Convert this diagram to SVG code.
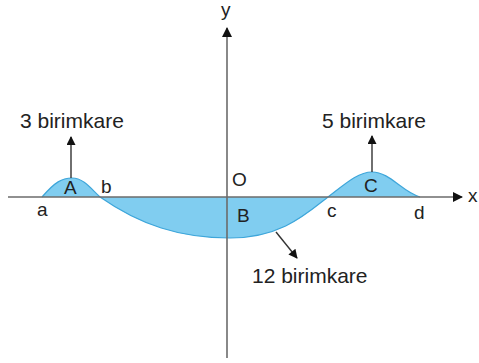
<svg xmlns="http://www.w3.org/2000/svg" width="479" height="363" viewBox="0 0 479 363">
<defs>
<style>
.axis{stroke:#6b6b6b;stroke-width:1.6;fill:none}
.ptr{stroke:#333;stroke-width:1.4;fill:none}
.lbl{font-family:"Liberation Sans",Arial,sans-serif;font-size:19px;fill:#222}
.cap{font-family:"Liberation Sans",Arial,sans-serif;font-size:21px;fill:#222}
</style>
<marker id="ah" viewBox="0 0 10 10" refX="9" refY="5" markerWidth="12" markerHeight="9" markerUnits="userSpaceOnUse" orient="auto">
<path d="M0,0 L10,5 L0,10 Z" fill="#111"/>
</marker>
<marker id="ahb" viewBox="0 0 10 10" refX="9" refY="5" markerWidth="13" markerHeight="10" markerUnits="userSpaceOnUse" orient="auto">
<path d="M0,0 L10,5 L0,10 Z" fill="#111"/>
</marker>
</defs>
<g id="region">
<path d="M42,197 C55,182 62,178 72,178 C84,178 92,190 100,197 C140,225 180,238 230,238 C280,238 305,215 328,197 C345,184 358,172 372,172 C390,172 402,192 420,197 Z" fill="#80cdf0" stroke="none"/>
<path d="M42,197 C55,182 62,178 72,178 C84,178 92,190 100,197 C140,225 180,238 230,238 C280,238 305,215 328,197 C345,184 358,172 372,172 C390,172 402,192 420,197" fill="none" stroke="#3ea6da" stroke-width="1.2"/>
</g>
<g id="axes">
<line class="axis" x1="8" y1="197" x2="462" y2="197" marker-end="url(#ahb)"/>
<line class="axis" x1="227" y1="358" x2="227" y2="28" marker-end="url(#ahb)"/>
</g>
<g id="connectors">
<line class="ptr" x1="71" y1="178" x2="71" y2="137" marker-end="url(#ah)"/>
<line class="ptr" x1="372" y1="172" x2="372" y2="136" marker-end="url(#ah)"/>
<line class="ptr" x1="276" y1="232" x2="297" y2="258" marker-end="url(#ah)"/>
</g>
<g id="labels">
<text class="lbl" x="468" y="202">x</text>
<text class="lbl" x="221" y="16">y</text>
<text class="lbl" x="64" y="194">A</text>
<text class="lbl" x="101" y="193">b</text>
<text class="lbl" x="37" y="216">a</text>
<text class="lbl" x="232" y="186">O</text>
<text class="lbl" x="237" y="222">B</text>
<text class="lbl" x="327" y="217">c</text>
<text class="lbl" x="364" y="192">C</text>
<text class="lbl" x="414" y="219">d</text>
</g>
<g id="captions">
<text class="cap" x="20" y="128">3 birimkare</text>
<text class="cap" x="322" y="128">5 birimkare</text>
<text class="cap" x="252" y="283">12 birimkare</text>
</g>
</svg>
